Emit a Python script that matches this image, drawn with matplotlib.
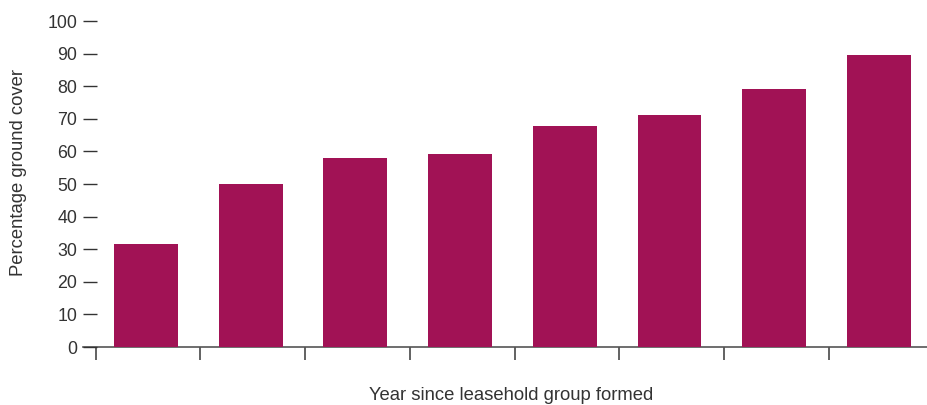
import numpy as np
import matplotlib.pyplot as plt

plt.rcParams['font.family'] = ['Liberation Sans', 'DejaVu Sans']

# data
years = ['1', '2', '3', '4', '5', '6', '7', '8']
cover = [31.6, 50.0, 58.0, 59.2, 67.8, 71.2, 79.1, 89.6]
yticks = [0, 10, 20, 30, 40, 50, 60, 70, 80, 90, 100]

W, H = 928, 405
fig = plt.figure(figsize=(W / 100, H / 100), dpi=100)
ax = fig.add_axes([83 / W, 1 - 347 / H, (928 - 83) / W, (347 - 21) / H])

x = np.arange(len(years))
ax.bar(x, cover, width=0.61, color='#A11255', zorder=2)

ax.set_xlim(-0.602, 7.47)
ax.set_ylim(0, 100)

ax.set_yticks(yticks)
ax.set_yticklabels([str(v) for v in yticks], fontsize=12.8, color='#333333')
ax.tick_params(axis='y', direction='in', length=10, width=1, color='#333333', pad=4.3)

ax.set_xticks(x - 0.48)
ax.set_xticklabels([])
ax.tick_params(axis='x', direction='out', length=9, width=1.3, color='#555555')

for s in ['top', 'right', 'left']:
    ax.spines[s].set_visible(False)
ax.spines['bottom'].set_color('#555555')
ax.spines['bottom'].set_linewidth(1.2)
ax.spines['bottom'].set_zorder(1)

ax.set_xlabel('Year since leasehold group formed', fontsize=13.3, color='#333333', va='center')
ax.xaxis.set_label_coords(0.507, -0.15)
ax.set_ylabel('Percentage ground cover', fontsize=13.3, color='#333333', va='center')
ax.yaxis.set_label_coords(-0.076, 0.535)

fig.savefig('out.png', dpi=100)
